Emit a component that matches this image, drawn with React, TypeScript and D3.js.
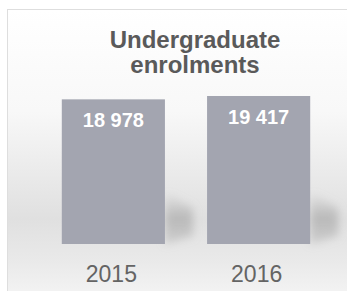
import * as d3 from "d3";

const years = ["2015", "2016"];
const enrolments = [18978, 19417];
const titleLines = ["Undergraduate", "enrolments"];

const W = 347;
const H = 291;
const baseY = 244;
const topY = 96;
const font = "'Liberation Sans', 'DejaVu Sans', sans-serif";

// numbers printed with a space as thousands separator
const fmt = (v: number) => d3.format(",")(v).replace(/,/g, " ");

export default function App() {
  const x = d3.scaleBand().domain(years).range([40, 332]).paddingInner(0.29).paddingOuter(0.15);
  const y = d3.scaleLinear().domain([0, d3.max(enrolments) as number]).range([baseY, topY]);
  const bw = x.bandwidth();

  return (
    <svg width={W} height={H} style={{ position: "absolute", left: 0, top: 0 }}>
      <defs>
        <linearGradient id="bg" x1="0" y1="0" x2="0" y2="1">
          <stop offset="0" stopColor="#ffffff" />
          <stop offset="0.35" stopColor="#f8f8f8" />
          <stop offset="0.72" stopColor="#e0e0e0" />
          <stop offset="0.86" stopColor="#e9e9e9" />
          <stop offset="1" stopColor="#f5f5f5" />
        </linearGradient>
        <linearGradient id="sh" x1="0" y1="0" x2="0" y2="1">
          <stop offset="0" stopColor="#a8a8a8" stopOpacity="0" />
          <stop offset="0.5" stopColor="#a4a4a4" stopOpacity="0.65" />
          <stop offset="1" stopColor="#b0b0b0" stopOpacity="0.45" />
        </linearGradient>
        <filter id="blur" x="-50%" y="-50%" width="200%" height="200%">
          <feGaussianBlur stdDeviation="4" />
        </filter>
      </defs>

      <rect x={7.5} y={9.5} width={W} height={H} fill="url(#bg)" stroke="#dedede" />

      <g fontFamily={font} fontWeight="bold" fill="#5a5a5a" fontSize={24} textAnchor="middle">
        {titleLines.map((t, i) => (
          <text key={t} x={195} y={48 + i * 25}>{t}</text>
        ))}
      </g>

      {years.map((yr, i) => {
        const x0 = x(yr) as number;
        const r = x0 + bw;
        const shadow = `M${r},${baseY - 52} L${r + 28},${baseY - 36} L${r + 28},${baseY - 8} L${r},${baseY} Z`;
        return (
          <g key={yr}>
            <path d={shadow} fill="url(#sh)" filter="url(#blur)" />
            <rect x={x0} y={y(enrolments[i])} width={bw} height={baseY - y(enrolments[i])} fill="#a3a5b0" />
            <text x={x0 + bw / 2} y={y(enrolments[i]) + 28} textAnchor="middle" fontFamily={font}
              fontWeight="bold" fontSize={20} fill="#ffffff">{fmt(enrolments[i])}</text>
            <text x={x0 + bw / 2 - 2} y={282} textAnchor="middle" fontFamily={font}
              fontSize={23} fill="#646464">{yr}</text>
          </g>
        );
      })}
    </svg>
  );
}
